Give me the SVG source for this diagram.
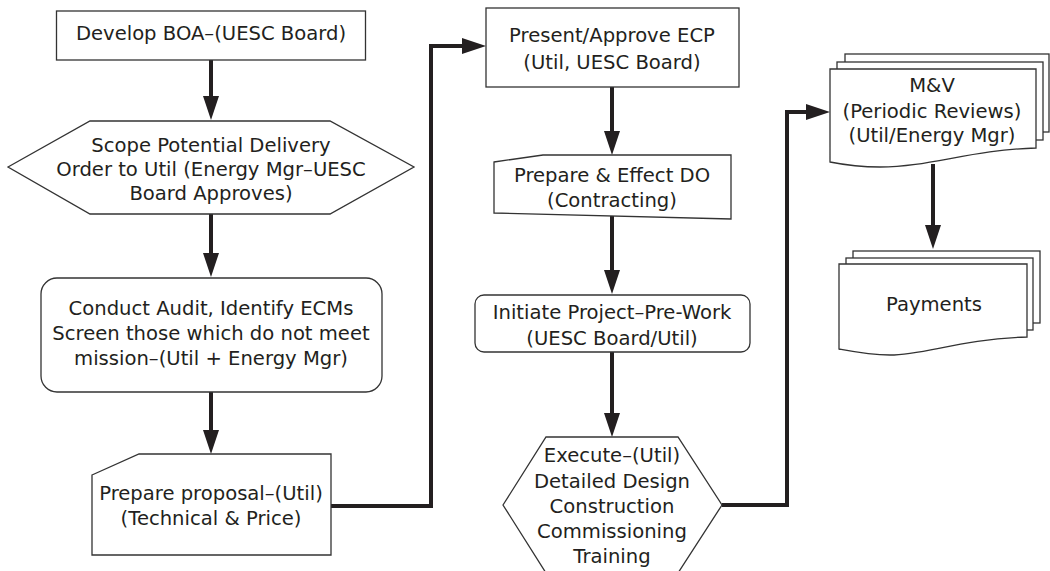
<svg xmlns="http://www.w3.org/2000/svg" width="1050" height="571" viewBox="0 0 1050 571">
<style>
.n{fill:#fff;stroke:#333;stroke-width:1.3}
.t{font-family:"DejaVu Sans","Open Sans","Liberation Sans",sans-serif;font-size:19.6px;fill:#231f20;text-anchor:middle}
.c{fill:none;stroke:#231f20;stroke-width:4}
</style>
<defs>
<marker id="ah" markerUnits="userSpaceOnUse" markerWidth="24" markerHeight="16" refX="4" refY="8" orient="auto">
<path d="M0,0 L24,8 L0,16 z" fill="#231f20"/>
</marker>
</defs>
<rect width="1050" height="571" fill="#fff"/>
<g id="connectors">
<path class="c" d="M211,60 V100" marker-end="url(#ah)"/>
<path class="c" d="M211,214 V257" marker-end="url(#ah)"/>
<path class="c" d="M211,392 V434" marker-end="url(#ah)"/>
<path class="c" d="M331,506 H431 V46 H466" marker-end="url(#ah)"/>
<path class="c" d="M612,87 V135" marker-end="url(#ah)"/>
<path class="c" d="M612,216 V274" marker-end="url(#ah)"/>
<path class="c" d="M612,352 V417" marker-end="url(#ah)"/>
<path class="c" d="M722,505 H787 V112 H810" marker-end="url(#ah)"/>
<path class="c" d="M933,164 V229" marker-end="url(#ah)"/>
</g>
<g id="develop-boa">
<rect class="n" x="56.5" y="11" width="309" height="49"/>
<text class="t" x="211" y="40">Develop BOA–(UESC Board)</text>
</g>
<g id="scope-do">
<polygon class="n" points="8,167 90,121 330,121 414,167 330,214 90,214"/>
<text class="t" x="211" y="152">Scope Potential Delivery</text>
<text class="t" x="211" y="176">Order to Util (Energy Mgr–UESC</text>
<text class="t" x="211" y="200">Board Approves)</text>
</g>
<g id="conduct-audit">
<rect class="n" x="41" y="278" width="341" height="114" rx="16"/>
<text class="t" x="211" y="315">Conduct Audit, Identify ECMs</text>
<text class="t" x="211" y="340">Screen those which do not meet</text>
<text class="t" x="211" y="365">mission–(Util + Energy Mgr)</text>
</g>
<g id="prepare-proposal">
<polygon class="n" points="92,475 139,454 331,454 331,555 92,555"/>
<text class="t" x="211" y="500">Prepare proposal–(Util)</text>
<text class="t" x="211" y="525">(Technical &amp; Price)</text>
</g>
<g id="present-ecp">
<rect class="n" x="486" y="8" width="253" height="79"/>
<text class="t" x="612" y="42">Present/Approve ECP</text>
<text class="t" x="612" y="69">(Util, UESC Board)</text>
</g>
<g id="prepare-do">
<polygon class="n" points="494,162 543,155 731,155 731,219 494,213"/>
<text class="t" x="612" y="182">Prepare &amp; Effect DO</text>
<text class="t" x="612" y="207">(Contracting)</text>
</g>
<g id="initiate-project">
<rect class="n" x="475" y="295" width="275" height="57" rx="9"/>
<text class="t" x="612" y="319">Initiate Project–Pre-Work</text>
<text class="t" x="612" y="345">(UESC Board/Util)</text>
</g>
<g id="execute">
<polygon class="n" points="503,505 546,437 678,437 722,505 678,573 546,573"/>
<text class="t" x="612" y="462">Execute–(Util)</text>
<text class="t" x="612" y="488">Detailed Design</text>
<text class="t" x="612" y="513">Construction</text>
<text class="t" x="612" y="538">Commissioning</text>
<text class="t" x="612" y="563">Training</text>
</g>
<g id="mv">
<rect class="n" x="845" y="54" width="204" height="78"/>
<rect class="n" x="837" y="62" width="206" height="78"/>
<path class="n" d="M830,69 H1036 V148 C970,150 930,167 880,167 C860,167 845,165 830,162 Z"/>
<text class="t" x="932" y="92">M&amp;V</text>
<text class="t" x="932" y="118">(Periodic Reviews)</text>
<text class="t" x="932" y="142">(Util/Energy Mgr)</text>
</g>
<g id="payments">
<rect class="n" x="853" y="251" width="187" height="72"/>
<rect class="n" x="846" y="258" width="187" height="72"/>
<path class="n" d="M839,264 H1027 V337 C960,339 925,355 890,355 C870,355 855,352 839,349 Z"/>
<text class="t" x="934" y="311">Payments</text>
</g>
</svg>
